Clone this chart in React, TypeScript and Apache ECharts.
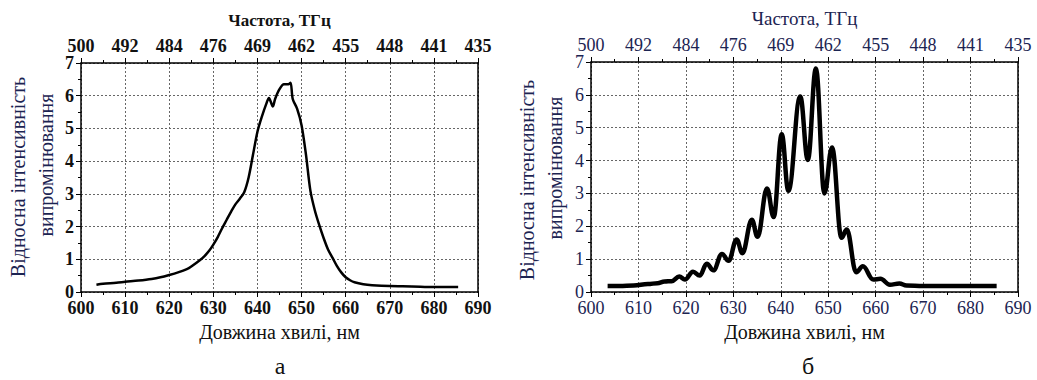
import React, { useEffect, useRef } from "react";
import * as echarts from "echarts";

// Wavelength (nm) / relative intensity, panel "а"
const waveA: number[] = [603.5, 605, 608, 610, 613, 616, 618, 620, 622, 624, 625, 627, 628, 629, 630, 631, 632, 633, 634, 635, 636, 637, 638, 639, 640, 641, 642, 642.6, 643.5, 644, 645, 646, 647, 647.5, 648, 649, 650, 651, 652, 653, 654, 655, 656, 657, 658, 659, 660, 661, 662, 664, 666, 670, 675, 680, 685.5];
const intensA: number[] = [0.22, 0.25, 0.28, 0.31, 0.35, 0.4, 0.45, 0.52, 0.6, 0.7, 0.78, 0.98, 1.1, 1.25, 1.45, 1.68, 1.95, 2.2, 2.45, 2.68, 2.85, 3.05, 3.5, 4.2, 4.9, 5.36, 5.75, 5.93, 5.67, 5.9, 6.2, 6.35, 6.35, 6.4, 5.9, 5.6, 5.1, 4.2, 3.1, 2.5, 2.05, 1.65, 1.3, 1.05, 0.8, 0.6, 0.45, 0.36, 0.3, 0.24, 0.21, 0.18, 0.17, 0.15, 0.15];

// Panel "б"
const waveB: number[] = [603.5, 606, 609, 612, 614, 615.5, 617, 618.6, 619.8, 621.5, 622.9, 624.4, 625.8, 627.6, 629, 630.7, 631.9, 633.9, 635.1, 637.1, 638.5, 640.2, 641.6, 644.1, 645.7, 647.4, 649.2, 650.8, 652.8, 653.9, 655.9, 657.3, 659.5, 661, 663, 665, 666.5, 670, 675, 680, 685.5];
const intensB: number[] = [0.18, 0.18, 0.2, 0.24, 0.27, 0.32, 0.33, 0.47, 0.38, 0.62, 0.5, 0.86, 0.66, 1.16, 0.95, 1.6, 1.18, 2.2, 1.68, 3.15, 2.28, 4.8, 3.08, 5.95, 4.02, 6.8, 3.0, 4.4, 1.65, 1.9, 0.6, 0.78, 0.38, 0.4, 0.22, 0.26, 0.2, 0.18, 0.18, 0.18, 0.18];

// Top-axis frequency labels (THz) at 600, 610, ... 690 nm
const freqLabels: string[] = ["500", "492", "484", "476", "469", "462", "455", "448", "441", "435"];

const xTitle = "Довжина хвилі, нм";
const topTitle = "Частота, ТГц";
const yTitle1 = "Відносна інтенсивність";
const yTitle2 = "випромінювання";
const panelLabels: string[] = ["а", "б"];

const FONT = "Liberation Serif";
const TEXT = "#111";
const NAVY = "#1c2452";

export default function App() {
  const ref = useRef<HTMLDivElement>(null);
  useEffect(() => {
    document.body.style.margin = "0";
    const chart = echarts.init(ref.current!, null, { renderer: "svg" });
    const grids = [
      { left: 81, top: 63, width: 397, height: 229 },
      { left: 591, top: 62, width: 427, height: 230 },
    ];
    const bold = [true, false];
    const xAxes: any[] = [];
    const yAxes: any[] = [];
    const gridLine = { show: true, lineStyle: { color: "#666", type: [2, 2], width: 1 } };
    grids.forEach((g, i) => {
      const fw = bold[i] ? "bold" : "normal";
      const color = bold[i] ? TEXT : NAVY;
      xAxes.push({
        gridIndex: i, type: "value", min: 600, max: 690, interval: 10, position: "bottom",
        axisLine: { show: true, onZero: false, lineStyle: { color: "#000", width: 1.5 } },
        axisTick: { show: true, inside: false, length: 5, lineStyle: { color: "#000" } },
        minorTick: { show: true, splitNumber: 2, length: 3, lineStyle: { color: "#000" } },
        splitLine: gridLine,
        axisLabel: { fontFamily: FONT, fontSize: 18, fontWeight: fw, color, margin: 9, lineHeight: 14 },
        name: xTitle, nameLocation: "middle", nameGap: 30,
        nameTextStyle: { fontFamily: FONT, fontSize: 20, color: TEXT, verticalAlign: "top" },
      });
      xAxes.push({
        gridIndex: i, type: "value", min: 600, max: 690, interval: 10, position: "top",
        axisLine: { show: true, onZero: false, lineStyle: { color: "#000", width: 1.5 } },
        axisTick: { show: true, inside: false, length: 5, lineStyle: { color: "#000" } },
        minorTick: { show: true, splitNumber: 2, length: 3, lineStyle: { color: "#000" } },
        splitLine: { show: false },
        axisLabel: {
          fontFamily: FONT, fontSize: 18, fontWeight: fw, color, margin: 10, lineHeight: 14,
          formatter: (v: number) => freqLabels[Math.round((v - 600) / 10)] ?? "",
        },
        name: topTitle, nameLocation: "middle", nameGap: 34,
        nameTextStyle: { fontFamily: FONT, fontSize: bold[i] ? 17 : 19, fontWeight: fw, color: bold[i] ? TEXT : NAVY },
      });
      yAxes.push({
        gridIndex: i, type: "value", min: 0, max: 7, interval: 1, position: "left",
        axisLine: { show: true, onZero: false, lineStyle: { color: "#000", width: 1.5 } },
        axisTick: { show: true, inside: false, length: 5, lineStyle: { color: "#000" } },
        minorTick: { show: true, splitNumber: 2, length: 3, lineStyle: { color: "#000" } },
        splitLine: gridLine,
        axisLabel: { fontFamily: FONT, fontSize: 18, fontWeight: fw, color, margin: 7, lineHeight: 14 },
      });
      yAxes.push({
        gridIndex: i, type: "value", min: 0, max: 7, interval: 1, position: "right",
        axisLine: { show: true, onZero: false, lineStyle: { color: "#000", width: 1.5 } },
        axisTick: { show: false }, splitLine: { show: false }, axisLabel: { show: false },
      });
    });

    const seriesA = waveA.map((w, k) => [w, intensA[k]]);
    const seriesB = waveB.map((w, k) => [w, intensB[k]]);

    chart.setOption({
      animation: false,
      grid: grids.map((g) => ({ ...g, containLabel: false })),
      xAxis: xAxes,
      yAxis: yAxes,
      series: [
        {
          type: "line", xAxisIndex: 0, yAxisIndex: 0, data: seriesA, showSymbol: false,
          smooth: 0.3, lineStyle: { color: "#000", width: 2.5 },
        },
        {
          type: "line", xAxisIndex: 2, yAxisIndex: 2, data: seriesB, showSymbol: false,
          smooth: 0.4, smoothMonotone: "x", lineStyle: { color: "#000", width: 4.5 },
        },
      ],
      graphic: [
        { type: "text", x: 18, y: 177, rotation: Math.PI / 2, style: { text: yTitle1, fontFamily: FONT, fontSize: 20, fill: NAVY, align: "center", verticalAlign: "middle" } },
        { type: "text", x: 46, y: 165, rotation: Math.PI / 2, style: { text: yTitle2, fontFamily: FONT, fontSize: 20, fill: NAVY, align: "center", verticalAlign: "middle" } },
        { type: "text", x: 527, y: 180, rotation: Math.PI / 2, style: { text: yTitle1, fontFamily: FONT, fontSize: 20, fill: NAVY, align: "center", verticalAlign: "middle" } },
        { type: "text", x: 555, y: 168, rotation: Math.PI / 2, style: { text: yTitle2, fontFamily: FONT, fontSize: 20, fill: NAVY, align: "center", verticalAlign: "middle" } },
        { type: "text", x: 280, y: 366, style: { text: panelLabels[0], fontFamily: FONT, fontSize: 24, fill: TEXT, align: "center", verticalAlign: "middle" } },
        { type: "text", x: 808, y: 366, style: { text: panelLabels[1], fontFamily: FONT, fontSize: 24, fill: TEXT, align: "center", verticalAlign: "middle" } },
      ],
    });
    return () => chart.dispose();
  }, []);
  return <div ref={ref} style={{ width: 1037, height: 380 }} />;
}
